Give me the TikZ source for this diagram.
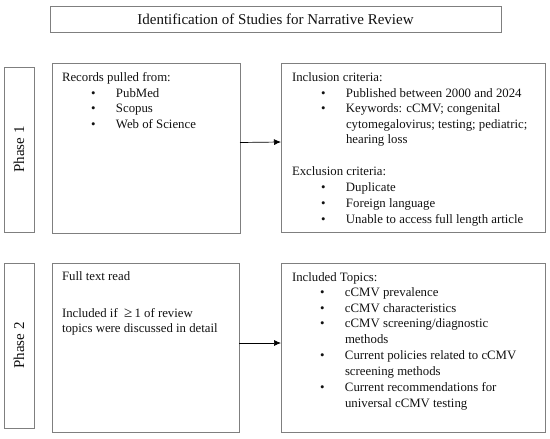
\documentclass[tikz,border=0pt]{standalone}
\usepackage{fontspec}
\setmainfont{Liberation Serif}
\usetikzlibrary{arrows.meta}
\definecolor{boxgray}{HTML}{7F7F7F}
\definecolor{txtcol}{HTML}{111111}
\newcommand\bul{\llap{\textbullet\hspace{20.5pt}}}
\begin{document}
\begin{tikzpicture}[x=1pt,y=-1pt,
  box/.style={draw=boxgray, line width=0.9pt, inner sep=0pt, outer sep=0pt},
  txt/.style={anchor=base west, inner sep=0pt, outer sep=0pt, text=txtcol, font=\fontsize{12.8}{15}\selectfont},
  phase/.style={rotate=90, inner sep=0pt, text=txtcol, font=\fontsize{15}{18}\selectfont},
  conn/.style={draw=black, line width=0.7pt, -{Latex[length=7pt,width=6pt]}}]
\useasboundingbox (0,0) rectangle (550,439);
% boxes
\node[box, minimum width=451pt, minimum height=26.5pt] (title) at (275.5,19.25) {};
\node[box, minimum width=30pt, minimum height=165pt] (ph1) at (19,149.5) {};
\node[box, minimum width=188pt, minimum height=170pt] (rec) at (146,148) {};
\node[box, minimum width=264pt, minimum height=169pt] (incl) at (413,147.5) {};
\node[box, minimum width=30pt, minimum height=165pt] (ph2) at (19,345.5) {};
\node[box, minimum width=187pt, minimum height=169pt] (full) at (145.5,347.5) {};
\node[box, minimum width=264pt, minimum height=169pt] (topics) at (413,347.5) {};
% title
\node[inner sep=0pt, text=txtcol, font=\fontsize{15}{18}\selectfont] (titletext) at (title.center) {Identification of Studies for Narrative Review};
% phase labels
\node[phase] (ph1text) at (ph1.center) {Phase 1};
\node[phase] (ph2text) at (ph2.center) {Phase 2};
% records
\node[txt] (r0) at (62,81.5) {Records pulled from:};
\node[txt] (r1) at (116,97) {\bul PubMed};
\node[txt] (r2) at (116,112.5) {\bul Scopus};
\node[txt] (r3) at (116,128) {\bul Web of Science};
% inclusion / exclusion
\node[txt] (i0) at (292,81.5) {Inclusion criteria:};
\node[txt] (i1) at (346,97) {\bul Published between 2000 and 2024};
\node[txt] (i2) at (346,112.5) {\bul Keywords: cCMV; congenital};
\node[txt] (i3) at (346,128) {cytomegalovirus; testing; pediatric;};
\node[txt] (i4) at (346,143.5) {hearing loss};
\node[txt] (e0) at (292,175.5) {Exclusion criteria:};
\node[txt] (e1) at (346,191.5) {\bul Duplicate};
\node[txt] (e2) at (346,207.5) {\bul Foreign language};
\node[txt] (e3) at (346,223.5) {\bul Unable to access full length article};
% full text
\node[txt] (f0) at (62,280.5) {Full text read};
\node[txt] (f1) at (62,317.5) {Included if \ {\fontsize{15}{15}\selectfont ≥}\,1 of review};
\node[txt] (f2) at (62,332.5) {topics were discussed in detail};
% topics
\node[txt] (t0) at (292,281.5) {Included Topics:};
\node[txt] (t1) at (345,296.5) {\bul cCMV prevalence};
\node[txt] (t2) at (345,312.5) {\bul cCMV characteristics};
\node[txt] (t3) at (345,327.5) {\bul cCMV screening/diagnostic};
\node[txt] (t4) at (345,343.5) {methods};
\node[txt] (t5) at (345,359.5) {\bul Current policies related to cCMV};
\node[txt] (t6) at (345,375.5) {screening methods};
\node[txt] (t7) at (345,391.5) {\bul Current recommendations for};
\node[txt] (t8) at (345,407.5) {universal cCMV testing};
% connectors
\draw[conn] ([yshift=5.5pt]rec.east) -- ([yshift=5.5pt]incl.west);
\draw[conn] ([yshift=4.5pt]full.east) -- ([yshift=4.5pt]topics.west);
\end{tikzpicture}
\end{document}
